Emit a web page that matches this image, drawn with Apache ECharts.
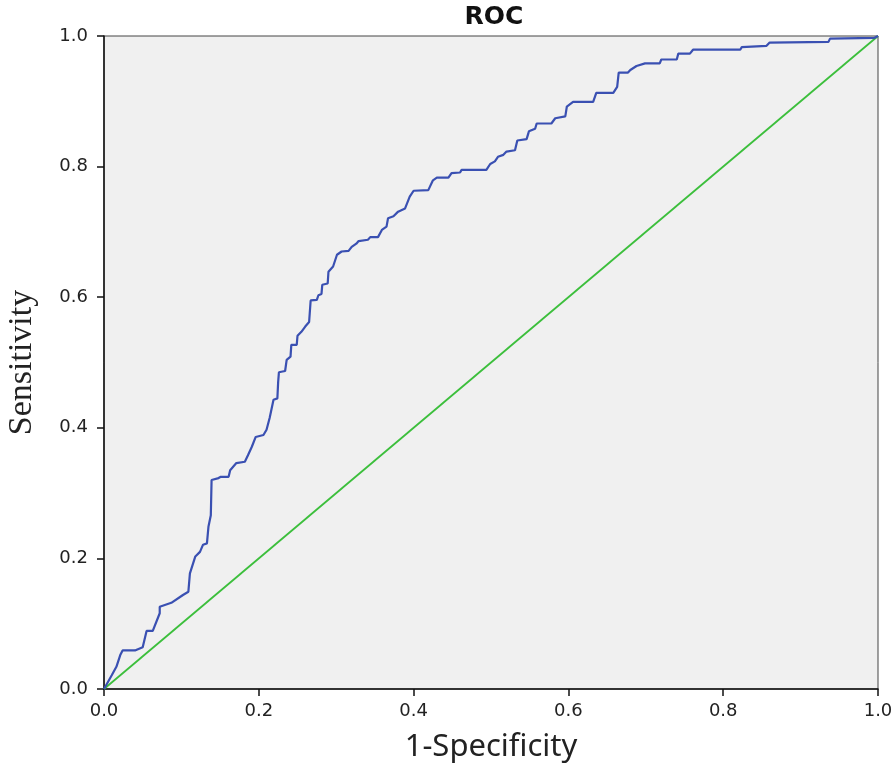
<!DOCTYPE html>
<html>
<head>
<meta charset="utf-8">
<script src="https://cdn.jsdelivr.net/npm/echarts@6/dist/echarts.min.js"></script>
<style>html,body{margin:0;padding:0;background:#fff;}#c{width:894px;height:771px;}</style>
</head>
<body>
<div id="c"></div>
<script>
const tickValues = [0.0, 0.2, 0.4, 0.6, 0.8, 1.0];
const fpr = [0,0.010,0.016,0.021,0.024,0.040,0.050,0.055,0.063,0.072,0.072,0.087,0.102,0.109,0.111,0.118,0.124,0.128,0.133,0.135,0.138,0.139,0.148,0.151,0.161,0.163,0.171,0.182,0.186,0.191,0.196,0.206,0.210,0.214,0.219,0.224,0.225,0.226,0.234,0.236,0.241,0.242,0.249,0.250,0.255,0.260,0.265,0.267,0.275,0.277,0.281,0.282,0.289,0.290,0.296,0.301,0.307,0.316,0.320,0.326,0.329,0.341,0.344,0.354,0.359,0.365,0.367,0.374,0.380,0.389,0.395,0.400,0.419,0.425,0.430,0.445,0.449,0.460,0.462,0.494,0.499,0.505,0.509,0.516,0.520,0.531,0.534,0.546,0.549,0.557,0.559,0.578,0.583,0.596,0.598,0.606,0.632,0.636,0.658,0.663,0.665,0.677,0.680,0.688,0.699,0.718,0.720,0.740,0.742,0.757,0.761,0.822,0.824,0.856,0.860,0.936,0.938,0.995,1.0];
const tpr = [0,0.021,0.034,0.052,0.059,0.059,0.064,0.089,0.089,0.116,0.126,0.132,0.144,0.149,0.177,0.203,0.210,0.221,0.223,0.249,0.266,0.320,0.323,0.325,0.325,0.335,0.346,0.348,0.358,0.371,0.386,0.389,0.397,0.415,0.443,0.445,0.470,0.485,0.487,0.504,0.509,0.527,0.527,0.541,0.547,0.555,0.562,0.595,0.596,0.603,0.605,0.619,0.621,0.639,0.647,0.665,0.670,0.671,0.677,0.682,0.686,0.688,0.692,0.692,0.703,0.708,0.721,0.724,0.731,0.736,0.754,0.763,0.764,0.779,0.783,0.783,0.790,0.791,0.795,0.795,0.804,0.808,0.815,0.818,0.823,0.825,0.840,0.842,0.854,0.858,0.866,0.866,0.874,0.877,0.892,0.899,0.899,0.913,0.913,0.922,0.944,0.944,0.948,0.954,0.958,0.958,0.964,0.964,0.973,0.973,0.979,0.979,0.983,0.985,0.990,0.991,0.996,0.997,1.0];
const refX = [0, 1];
const refY = [0, 1];

const rocData = fpr.map((x, i) => [x, tpr[i]]);
const refData = refX.map((x, i) => [x, refY[i]]);

const chart = echarts.init(document.getElementById('c'), null, {renderer: 'canvas'});
const axisCommon = {
  type: 'value', min: 0, max: 1, interval: 0.2,
  axisLine: {show: true, lineStyle: {color: '#111', width: 1.5}},
  axisTick: {show: true, inside: false, length: 7, lineStyle: {color: '#111', width: 1.5}},
  splitLine: {show: false},
  axisLabel: {color: '#222', fontFamily: 'DejaVu Sans', fontSize: 18, formatter: v => v.toFixed(1)}
};
chart.setOption({
  animation: false,
  title: {
    text: 'ROC', left: 489, textAlign: 'center', top: 0,
    textStyle: {fontFamily: 'DejaVu Sans', fontWeight: 'bold', fontSize: 25, color: '#111'}
  },
  grid: {left: 104, right: 16, top: 36, bottom: 82, containLabel: false, outerBoundsMode: 'none', show: true, backgroundColor: '#f0f0f0', borderColor: '#444', borderWidth: 1},
  xAxis: Object.assign({}, axisCommon, {
    position: 'bottom',
    name: '1-Specificity', nameLocation: 'middle', nameGap: 43,
    nameTextStyle: {fontFamily: 'Noto Sans', fontSize: 31, color: '#222'},
    axisLabel: Object.assign({}, axisCommon.axisLabel, {margin: 13})
  }),
  yAxis: Object.assign({}, axisCommon, {
    position: 'left',
    name: 'Sensitivity', nameLocation: 'middle', nameGap: 65,
    nameTextStyle: {fontFamily: 'Liberation Serif', fontSize: 34, color: '#222'},
    axisLabel: Object.assign({}, axisCommon.axisLabel, {margin: 16})
  }),
  series: [
    {type: 'line', data: refData, showSymbol: false, lineStyle: {color: '#3cbf3c', width: 1.8}, z: 2},
    {type: 'line', data: rocData, showSymbol: false, lineStyle: {color: '#3a50b2', width: 2.2}, z: 3}
  ]
});
</script>
</body>
</html>
